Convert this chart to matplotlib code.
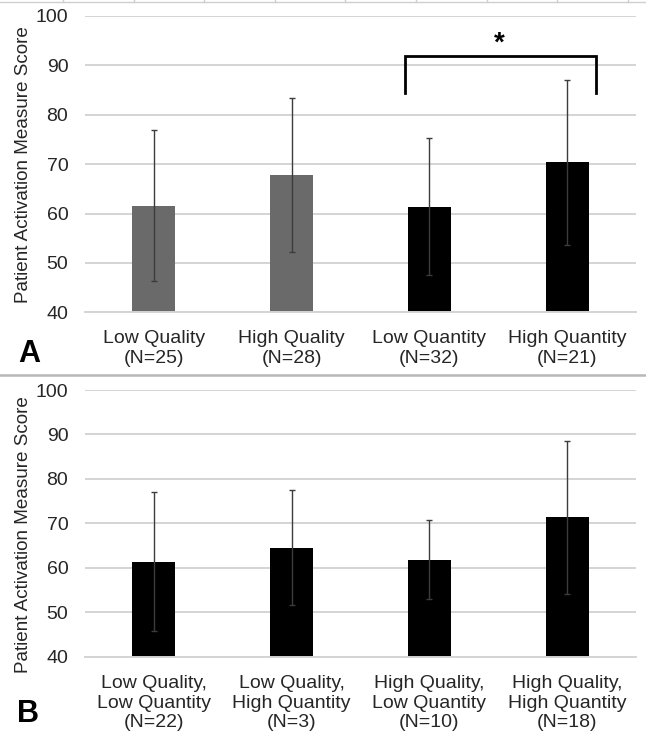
import matplotlib.pyplot as plt
from matplotlib.lines import Line2D

plt.rcParams['font.family'] = ['Liberation Sans', 'DejaVu Sans']

# Panel A: quality / quantity groups
labels_a = ["Low Quality\n(N=25)", "High Quality\n(N=28)", "Low Quantity\n(N=32)", "High Quantity\n(N=21)"]
means_a = [61.6, 67.8, 61.4, 70.4]
sd_a = [15.3, 15.5, 13.9, 16.7]
colors_a = ["#6a6a6a", "#6a6a6a", "#000000", "#000000"]

# Panel B: combined groups
labels_b = ["Low Quality,\nLow Quantity\n(N=22)", "Low Quality,\nHigh Quantity\n(N=3)",
            "High Quality,\nLow Quantity\n(N=10)", "High Quality,\nHigh Quantity\n(N=18)"]
means_b = [61.4, 64.5, 61.8, 71.4]
sd_b = [15.7, 12.9, 8.9, 17.2]
colors_b = ["#000000"] * 4

yticks = [40, 50, 60, 70, 80, 90, 100]
ylabel = "Patient Activation Measure Score"
text_col = "#262626"
grid_col = "#d4d4d4"

W, H = 646, 735
fig = plt.figure(figsize=(W / 100, H / 100), dpi=100)


def panel(rect, labels, means, sds, colors, label_y):
    ax = fig.add_axes(rect)
    x = list(range(len(means)))
    ax.bar(x, [m - 40 for m in means], bottom=40, width=0.312, color=colors, zorder=2)
    ax.errorbar(x, means, yerr=sds, fmt="none", ecolor="#3c3c3c", elinewidth=1.0,
                capsize=2.2, capthick=1.0, zorder=3)
    ax.set_xlim(-0.5, len(means) - 0.5)
    ax.set_ylim(40, 100)
    ax.set_yticks(yticks)
    ax.yaxis.grid(True, color=grid_col, linewidth=1.4, zorder=0)
    ax.set_axisbelow(True)
    for s in ["top", "right", "left"]:
        ax.spines[s].set_visible(False)
    ax.spines["bottom"].set_color(grid_col)
    ax.spines["bottom"].set_linewidth(1.4)
    ax.tick_params(axis="both", length=0, labelsize=14, colors=text_col)
    ax.tick_params(axis="y", pad=12)
    ax.tick_params(axis="x", pad=13)
    ax.set_xticks(x)
    ax.set_xticklabels(labels, linespacing=1.22)
    ax.set_ylabel(ylabel, fontsize=13.6, color=text_col)
    ax.yaxis.set_label_coords(-0.0962, label_y)
    return ax


ax_a = panel([85 / W, 1 - 312.3 / H, 551 / W, 296.3 / H], labels_a, means_a, sd_a, colors_a, 0.497)
ax_b = panel([85 / W, 1 - 656.7 / H, 551 / W, 266.7 / H], labels_b, means_b, sd_b, colors_b, 0.457)

# significance bracket between the quantity groups
ax_a.plot([1.823, 1.823, 3.21, 3.21], [84.5, 91.9, 91.9, 84.5], color="black",
          linewidth=2.0, solid_joinstyle="miter", clip_on=False, zorder=4)
ax_a.text(2.51, 94.4, "*", ha="center", va="center", fontsize=20, fontweight="bold",
          color="black")

# panel letters
fig.text(18 / W, 1 - 362 / H, "A", fontsize=22, fontweight="bold", color="black",
         ha="left", va="baseline")
fig.text(17 / W, 1 - 722 / H, "B", fontsize=22, fontweight="bold", color="black",
         ha="left", va="baseline")

# separator and faint top rule
fig.add_artist(Line2D([0, 1], [1 - 375 / H, 1 - 375 / H], color="#b8b8b8", linewidth=1.8))
fig.add_artist(Line2D([0, 1], [1 - 1.5 / H, 1 - 1.5 / H], color="#cfcfcf", linewidth=1.0))
for i in range(9):
    xt = (63 + 70.6 * i) / W
    fig.add_artist(Line2D([xt, xt], [1 - 2 / H, 1], color="#cfcfcf", linewidth=1.0))

fig.savefig("out.png", dpi=100)
